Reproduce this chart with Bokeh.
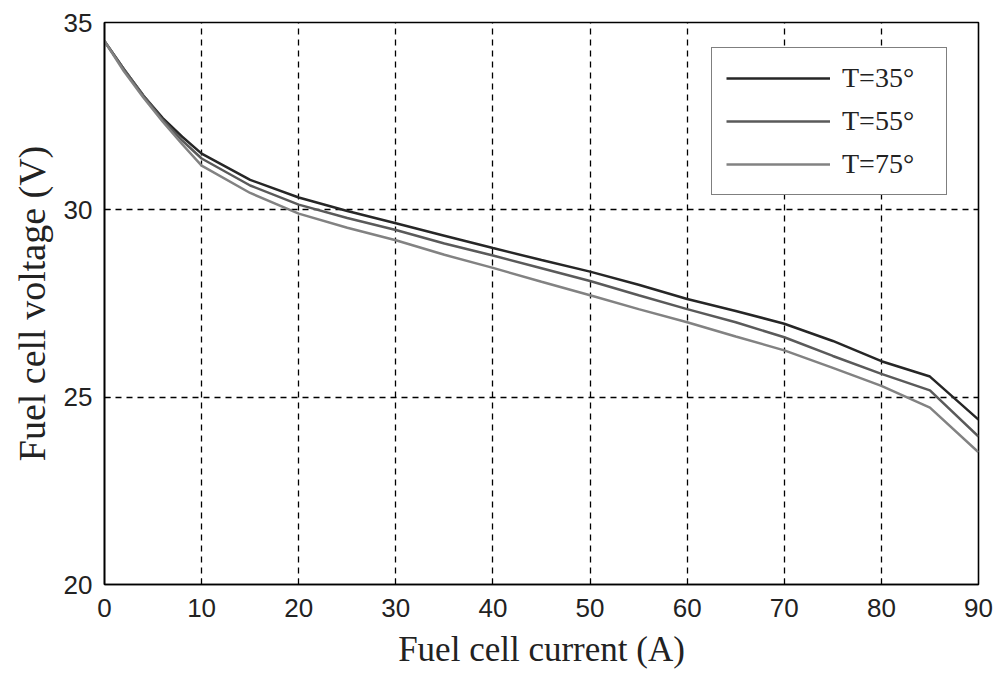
from bokeh.plotting import figure
from bokeh.models import Legend, LegendItem, Range1d, FixedTicker
from bokeh.embed import file_html
from bokeh.resources import INLINE

current = [0, 2, 4, 6, 8, 10, 15, 20, 25, 30, 35, 40, 45, 50, 55, 60, 65, 70, 75, 80, 85, 90]
v_35 = [34.5, 33.75, 33.05, 32.45, 31.95, 31.5, 30.8, 30.33, 29.97, 29.64, 29.31, 28.98, 28.66,
        28.35, 28.0, 27.62, 27.3, 26.96, 26.5, 25.96, 25.55, 24.4]
v_55 = [34.5, 33.75, 33.05, 32.4, 31.85, 31.37, 30.65, 30.14, 29.78, 29.46, 29.1, 28.78, 28.44,
        28.1, 27.72, 27.35, 27.0, 26.6, 26.1, 25.62, 25.18, 23.95]
v_75 = [34.5, 33.7, 33.0, 32.35, 31.75, 31.18, 30.45, 29.9, 29.52, 29.19, 28.8, 28.45, 28.08,
        27.72, 27.35, 27.0, 26.62, 26.25, 25.78, 25.3, 24.72, 23.53]
series_labels = ["T=35°", "T=55°", "T=75°"]
x_ticks = [0, 10, 20, 30, 40, 50, 60, 70, 80, 90]
y_ticks = [20, 25, 30, 35]

colors = ["#262626", "#5a5a5a", "#828282"]

p = figure(width=998, height=675, output_backend="svg", toolbar_location=None,
           x_range=Range1d(0, 90), y_range=Range1d(20, 35),
           min_border_left=104, min_border_right=20, min_border_top=22, min_border_bottom=91)

p.background_fill_color = "white"
p.border_fill_color = "white"
p.outline_line_color = "black"
p.outline_line_width = 1.6

for ax in (p.xaxis[0], p.yaxis[0]):
    ax.axis_line_color = "black"
    ax.axis_line_width = 1.6
    ax.major_tick_in = 6
    ax.major_tick_out = 0
    ax.minor_tick_line_color = None
    ax.major_tick_line_color = "black"
    ax.major_label_text_font = "Liberation Sans"
    ax.major_label_text_font_size = "26px"
    ax.major_label_text_color = "#222222"
    ax.axis_label_text_font = "Liberation Serif"
    ax.axis_label_text_font_style = "normal"
    ax.axis_label_text_color = "#222222"

p.xaxis.ticker = FixedTicker(ticks=x_ticks)
p.yaxis.ticker = FixedTicker(ticks=y_ticks)
p.xaxis.axis_label = "Fuel cell current (A)"
p.yaxis.axis_label = "Fuel cell voltage (V)"
p.xaxis.axis_label_text_font_size = "35px"
p.yaxis.axis_label_text_font_size = "38px"
p.xaxis.major_label_standoff = 14
p.yaxis.major_label_standoff = 12
p.xaxis.axis_label_standoff = 10
p.yaxis.axis_label_standoff = 8

for g in (p.xgrid[0], p.ygrid[0]):
    g.grid_line_color = "black"
    g.grid_line_width = 1.3
    g.grid_line_dash = "6 5"

r1 = p.line(current, v_35, line_color=colors[0], line_width=2.5)
r2 = p.line(current, v_55, line_color=colors[1], line_width=2.5)
r3 = p.line(current, v_75, line_color=colors[2], line_width=2.5)

legend = Legend(items=[LegendItem(label=series_labels[0], renderers=[r1]),
                       LegendItem(label=series_labels[1], renderers=[r2]),
                       LegendItem(label=series_labels[2], renderers=[r3])],
                location=(607, 389))
legend.border_line_color = "black"
legend.border_line_width = 1.6
legend.background_fill_alpha = 1.0
legend.label_text_font = "Liberation Serif"
legend.label_text_font_size = "28px"
legend.label_text_color = "#222222"
legend.glyph_width = 104
legend.glyph_height = 30
legend.label_standoff = 12
legend.label_width = 90
legend.padding = 14
legend.spacing = 11
legend.margin = 0
p.add_layout(legend, "center")

open("out.html", "w").write(file_html(p, INLINE))
